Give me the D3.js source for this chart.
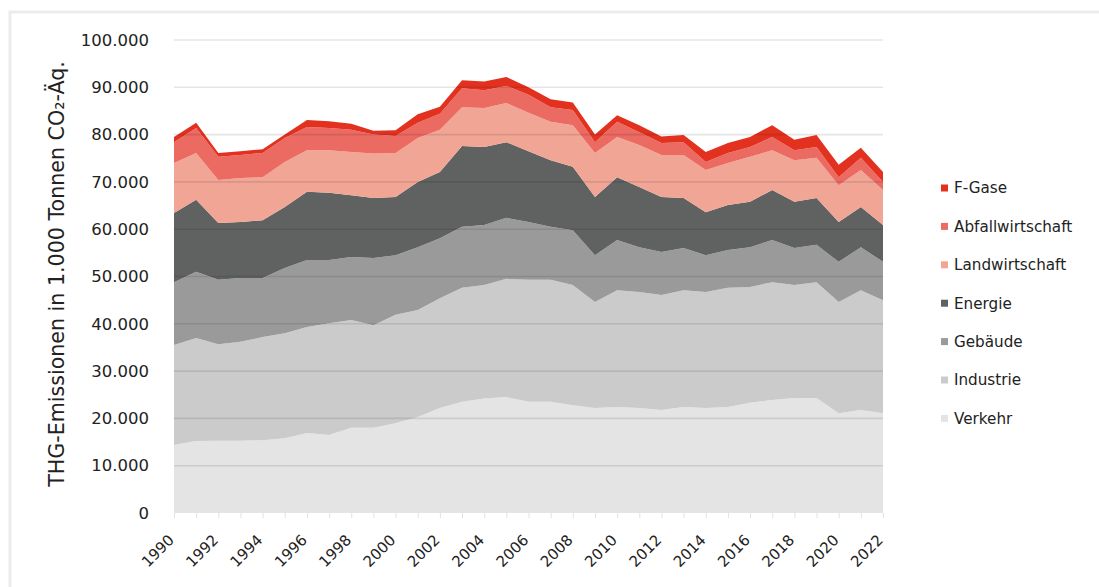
<!DOCTYPE html>
<html>
<head>
<meta charset="utf-8">
<script src="https://cdn.jsdelivr.net/npm/d3@7"></script>
<style>
  html, body { margin: 0; padding: 0; background: #ffffff; }
  svg { display: block; font-family: "DejaVu Sans", "Open Sans", sans-serif; }
</style>
</head>
<body>
<svg id="chart" width="1099" height="587"></svg>
<script>
// ---- data (1.000 t CO2-Äq.) ----
const years = [1990,1991,1992,1993,1994,1995,1996,1997,1998,1999,2000,2001,2002,2003,2004,2005,2006,2007,2008,2009,2010,2011,2012,2013,2014,2015,2016,2017,2018,2019,2020,2021,2022];
const verkehr = [14400,15200,15300,15300,15400,15800,16900,16500,18000,18000,19000,20300,22200,23500,24200,24500,23500,23500,22800,22200,22400,22200,21800,22400,22200,22400,23300,23900,24300,24300,21100,21800,21100];
const industrie = [21100,21800,20400,20900,21800,22200,22400,23600,22800,21700,22900,22600,23200,24100,24000,25000,25800,25800,25400,22400,24700,24500,24300,24700,24500,25200,24500,24900,23900,24500,23500,25300,23900];
const gebaeude = [13300,14000,13600,13500,12500,13800,14200,13400,13300,14200,12600,13300,12700,12900,12700,12900,12200,11200,11600,9900,10600,9500,9100,8900,7800,8000,8400,8900,7800,7900,8500,9100,8100];
const energie = [14600,15200,12000,11800,12200,12900,14400,14200,13100,12700,12300,13800,14000,17100,16500,16000,15000,14100,13400,12300,13300,12700,11600,10600,9100,9500,9600,10600,9800,9900,8400,8500,7800];
const landwirtschaft = [10600,9900,9100,9300,9100,9500,8800,9000,9100,9400,9300,9300,8900,8200,8200,8300,8100,8100,8800,9300,8500,8900,8900,9100,8900,8900,9500,8400,8800,8500,7800,7800,7400];
const abfallwirtschaft = [4400,5300,4900,4900,5100,5100,4900,4700,4700,4000,3600,3200,3400,4000,3800,3600,3800,3100,3200,2300,3200,2700,2500,2700,1700,2100,2100,2800,2100,2300,1700,2600,1700];
const fgase = [1100,1100,800,800,800,700,1500,1400,1300,800,1200,1800,1500,1700,1800,1900,1600,1700,1600,1600,1400,1500,1400,1500,2100,2100,2100,2500,2200,2500,2600,2100,2100];

const seriesNames = ["Verkehr","Industrie","Gebäude","Energie","Landwirtschaft","Abfallwirtschaft","F-Gase"];
const seriesValues = [verkehr, industrie, gebaeude, energie, landwirtschaft, abfallwirtschaft, fgase];
const seriesColors = ["#e4e4e4","#cbcbcb","#9a9a9a","#606262","#f1a594","#eb6a62","#e2321f"];
const yTicks = [0,10000,20000,30000,40000,50000,60000,70000,80000,90000,100000];
const xTickYears = [1990,1992,1994,1996,1998,2000,2002,2004,2006,2008,2010,2012,2014,2016,2018,2020,2022];
const yTitle = "THG-Emissionen in 1.000 Tonnen CO₂-Äq.";

// ---- build table for stacking ----
const table = years.map((yr, i) => {
  const row = { year: yr };
  seriesNames.forEach((n, k) => row[n] = seriesValues[k][i]);
  return row;
});

const svg = d3.select("#chart");

// outer frame
svg.append("rect")
  .attr("x", 10).attr("y", 12).attr("width", 1100).attr("height", 600)
  .attr("fill", "#ffffff").attr("stroke", "#ececec").attr("stroke-width", 3);

const pLeft = 174, pRight = 883, pTop = 40, pBottom = 513;
const x = d3.scaleLinear().domain([1990, 2022]).range([pLeft, pRight]);
const y = d3.scaleLinear().domain([0, 100000]).range([pBottom, pTop]);

const stacked = d3.stack().keys(seriesNames)(table);

const area = d3.area()
  .x(d => x(d.data.year))
  .y0(d => y(d[0]))
  .y1(d => y(d[1]));

svg.append("g").selectAll("path")
  .data(stacked)
  .join("path")
  .attr("d", area)
  .attr("fill", (d, i) => seriesColors[i]);

// gridlines (drawn over areas, as in the reference)
svg.append("g").selectAll("line")
  .data(yTicks.filter(t => t > 0))
  .join("line")
  .attr("x1", pLeft).attr("x2", pRight)
  .attr("y1", d => y(d)).attr("y2", d => y(d))
  .attr("stroke", "#000").attr("stroke-opacity", 0.10).attr("stroke-width", 1.6);

// y axis labels
const fmt = v => v === 0 ? "0" : d3.format(",")(v).replace(/,/g, ".");
const yAxis = d3.axisLeft(y).tickValues(yTicks).tickFormat(fmt).tickSize(0).tickPadding(0);
const yg = svg.append("g").attr("transform", `translate(${pLeft - 25},0)`).call(yAxis);
yg.select(".domain").remove();
yg.selectAll("text")
  .attr("font-size", 16.5).attr("fill", "#222")
  .attr("font-family", "'DejaVu Sans', sans-serif");

// x axis
const xAxis = d3.axisBottom(x).tickValues(years).tickFormat("").tickSize(5);
const xg = svg.append("g").attr("transform", `translate(0,${pBottom})`).call(xAxis);
xg.select(".domain").remove();
xg.selectAll("line").attr("stroke", "#e2e2e2");

svg.append("g").selectAll("text")
  .data(xTickYears)
  .join("text")
  .attr("transform", d => `translate(${x(d) + 1},${pBottom + 28}) rotate(-45)`)
  .attr("text-anchor", "end")
  .attr("font-size", 15)
  .attr("fill", "#222")
  .text(d => d);

// y title
const title = svg.append("text")
  .attr("transform", `translate(64,274) rotate(-90)`)
  .attr("text-anchor", "middle")
  .attr("font-size", 18)
  .attr("fill", "#222")
  .text(yTitle);
const tl = title.node().getComputedTextLength();
title.attr("font-size", 18 * 426 / tl);

// legend (top to bottom: F-Gase ... Verkehr)
const legendOrder = d3.range(seriesNames.length).reverse();
const lg = svg.append("g");
legendOrder.forEach((k, j) => {
  const ly = 188 + j * 38.4;
  lg.append("rect").attr("x", 941).attr("y", ly - 3.5).attr("width", 7).attr("height", 7).attr("fill", seriesColors[k]);
  lg.append("text").attr("x", 954).attr("y", ly).attr("dy", "0.35em")
    .attr("font-size", 15.2).attr("fill", "#222").text(seriesNames[k]);
});
</script>
</body>
</html>
